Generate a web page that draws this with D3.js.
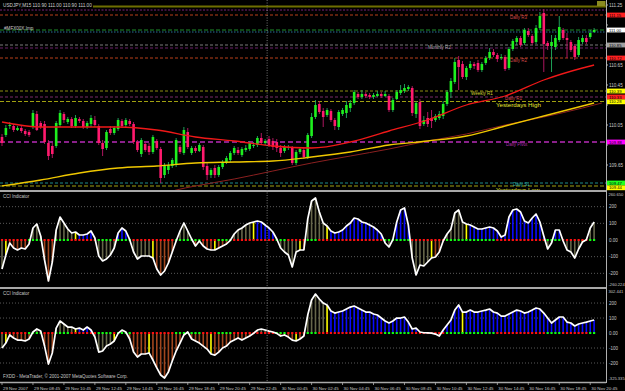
<!DOCTYPE html>
<html><head><meta charset="utf-8">
<script src="https://cdn.jsdelivr.net/npm/d3@7/dist/d3.min.js"></script>
<style>html,body{margin:0;padding:0;background:#000;overflow:hidden}svg{display:block}</style>
</head><body>
<svg id="chart" width="625" height="391"></svg>
<script>
// ---------------- DATA ----------------
const symbolTitle = "USDJPY,M15  110.90 111.00 110.90 111.00";
const open = [109.93,109.95,110.04,110.04,110.00,110.02,109.99,109.98,110.03,110.16,
110.07,110.06,109.87,109.84,109.84,110.05,110.16,110.08,110.11,110.04,
110.11,110.09,110.03,110.06,110.10,110.04,109.87,109.82,110.01,109.97,
110.01,110.09,110.05,110.09,110.06,109.88,109.76,109.86,109.84,109.78,
109.89,109.81,109.55,109.60,109.64,109.65,109.83,109.77,109.98,109.77,
109.82,109.79,109.83,109.64,109.55,109.62,109.55,109.63,109.68,109.70,
109.77,109.80,109.75,109.80,109.81,109.84,109.85,109.92,109.87,109.91,
109.89,109.88,109.82,109.79,109.82,109.82,109.67,109.78,109.80,109.73,
109.94,110.13,110.26,110.19,110.15,110.19,110.10,110.03,110.16,110.17,
110.22,110.27,110.36,110.33,110.36,110.35,110.33,110.34,110.36,110.34,
110.34,110.20,110.31,110.37,110.39,110.41,110.42,110.16,110.28,110.06,
110.12,110.12,110.10,110.12,110.14,110.26,110.38,110.48,110.70,110.66,
110.53,110.62,110.66,110.67,110.60,110.67,110.72,110.78,110.75,110.72,
110.73,110.62,110.81,110.88,110.92,110.87,110.99,110.94,110.88,111.02,
111.17,110.87,110.84,110.83,110.90,111.00,110.92,110.88,110.84,110.75,
110.88,110.92,110.93,110.98];
const close = [109.87,110.02,110.05,110.00,110.02,109.99,109.96,109.95,110.17,110.00,
110.03,109.88,109.74,109.76,110.07,110.17,110.10,110.11,110.04,110.12,
110.09,110.03,110.07,110.12,110.05,109.87,109.81,109.98,109.97,110.02,
110.10,110.04,110.10,110.06,109.88,109.80,109.90,109.80,109.78,109.93,
109.82,109.52,109.65,109.65,109.70,109.90,109.78,110.00,109.83,109.82,
109.79,109.85,109.63,109.55,109.60,109.55,109.63,109.68,109.72,109.77,
109.82,109.77,109.81,109.82,109.87,109.85,109.92,109.87,109.89,109.85,
109.83,109.82,109.77,109.83,109.83,109.67,109.78,109.81,109.73,109.95,
110.13,110.25,110.18,110.13,110.20,110.10,110.04,110.18,110.20,110.25,
110.27,110.38,110.33,110.36,110.34,110.33,110.35,110.36,110.34,110.36,
110.20,110.30,110.38,110.40,110.42,110.43,110.17,110.27,110.04,110.10,
110.06,110.09,110.14,110.16,110.26,110.38,110.49,110.68,110.63,110.53,
110.62,110.66,110.64,110.60,110.66,110.72,110.78,110.75,110.71,110.73,
110.61,110.81,110.89,110.92,110.85,111.00,110.95,110.87,111.02,111.14,
110.86,110.84,110.88,110.92,111.03,110.92,110.90,110.80,110.73,110.90,
110.92,110.88,110.97,111.00];
const high = [109.96,110.05,110.08,110.06,110.04,110.04,110.01,110.00,110.20,110.19,
110.09,110.09,109.90,109.87,110.09,110.20,110.18,110.13,110.13,110.15,
110.13,110.11,110.09,110.15,110.14,110.06,109.90,110.00,110.04,110.04,
110.12,110.11,110.12,110.11,110.08,109.90,109.92,109.88,109.87,109.95,
109.91,109.83,109.67,109.68,109.72,109.92,109.85,110.03,110.02,109.84,
109.84,109.87,109.85,109.67,109.62,109.65,109.65,109.70,109.74,109.79,
109.84,109.83,109.83,109.85,109.89,109.88,109.94,109.97,109.91,109.94,
109.92,109.91,109.85,109.85,109.85,109.84,109.80,109.83,109.82,109.97,
110.17,110.30,110.29,110.22,110.22,110.21,110.12,110.20,110.22,110.29,
110.30,110.40,110.38,110.40,110.38,110.37,110.37,110.39,110.38,110.39,
110.36,110.32,110.40,110.45,110.46,110.45,110.44,110.29,110.31,110.14,
110.18,110.20,110.16,110.19,110.29,110.40,110.52,110.72,110.74,110.69,
110.64,110.69,110.68,110.70,110.68,110.74,110.82,110.81,110.77,110.76,
110.75,110.83,110.91,110.94,110.94,111.02,111.02,110.96,111.05,111.18,
111.21,110.89,110.95,110.95,111.14,111.02,110.97,110.90,110.86,110.93,
110.95,110.95,111.00,111.02];
const low = [109.84,109.93,110.01,109.98,109.99,109.97,109.94,109.93,110.01,109.99,
110.01,109.86,109.70,109.72,109.82,110.03,110.07,110.06,110.02,110.02,
110.07,110.01,110.01,110.03,110.03,109.85,109.74,109.80,109.95,109.95,
109.99,110.02,110.03,110.04,109.86,109.78,109.73,109.78,109.75,109.76,
109.80,109.47,109.52,109.56,109.62,109.63,109.76,109.75,109.81,109.75,
109.77,109.78,109.60,109.50,109.52,109.52,109.53,109.61,109.66,109.68,
109.75,109.75,109.73,109.78,109.79,109.82,109.83,109.85,109.85,109.83,
109.80,109.78,109.73,109.77,109.80,109.65,109.65,109.76,109.71,109.71,
109.92,110.11,110.16,110.03,110.13,110.08,110.00,110.00,110.14,110.12,
110.18,110.25,110.31,110.31,110.32,110.31,110.31,110.33,110.32,110.33,
110.18,110.18,110.30,110.35,110.37,110.39,110.14,110.12,110.01,110.04,
110.03,110.02,110.08,110.10,110.11,110.24,110.32,110.46,110.40,110.51,
110.50,110.60,110.61,110.58,110.58,110.65,110.70,110.73,110.68,110.70,
110.59,110.60,110.79,110.85,110.83,110.85,110.93,110.85,110.86,111.00,
110.58,110.80,110.58,110.80,110.88,110.90,110.72,110.78,110.70,110.73,
110.86,110.86,110.91,110.97];

// moving averages (read at sample bars)
const maBars = [0,10,20,30,40,50,60,70,80,90,100,110,120,130,140,150,153];
const maRed = [110.08,110.03,110.03,110.03,110.00,109.93,109.89,109.84,109.82,109.88,109.99,110.10,110.25,110.34,110.50,110.62,110.65];
const maYellow = [109.44,109.50,109.57,109.62,109.64,109.67,109.68,109.69,109.73,109.78,109.85,109.89,109.94,110.04,110.14,110.24,110.27];
const maMaroonBars = [40,45,50,60,70,80,90,100,110,120,130,140,150,155];
const maMaroon = [109.34,109.40,109.44,109.51,109.59,109.67,109.74,109.81,109.89,109.96,110.05,110.13,110.22,110.27];

// CCI panel values (one per bar)
const cci1 = [-174,-90,-18,-48,-60,-48,-54,-24,72,96,
24,-120,-246,-132,60,138,102,66,42,48,
30,30,36,54,12,-96,-126,-114,-90,-48,
42,72,54,2,-72,-114,-96,-96,-96,-108,
-174,-210,-186,-138,-72,-6,54,102,54,6,
-36,-6,-36,-54,-60,-60,-48,-36,-24,-2,
36,60,72,90,102,108,114,108,90,72,
48,6,-48,-72,-90,-162,-72,-60,-60,126,
234,252,168,102,84,54,42,48,60,84,
102,132,126,108,102,90,78,60,36,-18,
-42,2,108,180,192,90,-108,-210,-150,-156,
-132,-108,-102,-72,-6,36,66,162,180,108,
96,90,78,66,66,72,78,72,54,18,
30,138,180,186,168,114,102,132,156,108,
24,-54,-18,60,60,-6,-60,-72,-108,-54,
-12,2,72,108];
const cci2 = [-100,-67,-13,-33,-47,-47,-53,-40,7,27,
13,-87,-207,-133,33,80,60,40,40,27,
33,20,40,20,-27,-127,-120,-87,-73,-53,
-2,20,7,-40,-127,-160,-140,-140,-133,-180,
-233,-280,-300,-260,-187,-120,-67,-13,7,-40,
-53,-67,-87,-107,-140,-147,-127,-100,-87,-60,
-47,-33,-47,-33,-20,-2,20,27,20,13,
7,-2,-20,-13,-27,-47,-53,-40,-20,120,
220,260,227,200,187,147,133,140,147,160,
173,180,167,153,140,140,127,120,100,80,
67,80,100,100,107,73,27,33,7,2,
1,-1,-7,-20,20,53,87,153,187,140,
140,153,140,140,147,153,160,140,133,113,
113,127,140,153,147,133,140,153,167,160,
133,100,67,87,107,107,73,67,47,60,
67,73,80,87];
const priorRun = 4; // bars below zero before the first visible bar
const zeroDots = ("RRRRRRRGGGGRRRGGGGRRRRRRRGGGGRGGGGRRRRRRRRRRRGGGGGGGRRRRGGGG" +
  "RRRRRRRRRRRGGGRRRRRGGGRRRRRRRRRRRRRRRRRGGGGGGGRRRRRRRRRGGGGGGGGGGGGG" +
  "RRRRRRRRRRRRRGGGGRRRRRRRGG").split("");

// levels
const levelValues = [111.235,111.20,111.15,111.00,110.98,110.85,110.82,110.72,110.39,110.33,110.285,109.88,109.47,109.44];
const levelNames  = ["","","Daily R3","","","Monthly R2","","Daily R2","Weekly R1","Daily R1","Yesterdays High","Daily Pivot","Daily S1","Yesterdays Low"];
const boxValues = [111.15,111.00,110.85,110.72,110.39,110.33,110.285,109.88,109.47,109.44];
const priceTicks = [111.25,111.05,110.85,110.65,110.45,110.25,110.05,109.85,109.65,109.45];
const cciTicks = [200,100,0,-100,-200];
const cciTickLabels = ["200","100","0.00","-100","-200"];
const cci1Range = ["260.650","-260.224"];
const cci2Range = ["302.441","-325.335"];
const timeBars = [0,8,16,24,32,40,48,56,64,72,80,88,96,104,112,120,128,136,144,152];
const timeLabels = ["29 Nov 2007","29 Nov 08:45","29 Nov 10:45","29 Nov 12:45","29 Nov 14:45","29 Nov 16:45",
 "29 Nov 18:45","29 Nov 20:45","29 Nov 22:45","30 Nov 00:45","30 Nov 02:45","30 Nov 04:45","30 Nov 06:45",
 "30 Nov 08:45","30 Nov 10:45","30 Nov 12:45","30 Nov 14:45","30 Nov 16:45","30 Nov 18:45","30 Nov 20:45"];
const dayBreakBar = 69;

// ---------------- DRAW ----------------
const svg = d3.select('#chart');
svg.append('rect').attr('width',625).attr('height',391).attr('fill','#000');
const FONT = "'Liberation Sans',Arial,Helvetica,sans-serif";
function txt(g,x,y,s,size,fill,anchor){
  return g.append('text').attr('transform',`translate(${x},${y}) scale(0.5)`)
    .attr('font-family',FONT).attr('font-size',size*2).attr('fill',fill)
    .attr('text-anchor',anchor||'start').text(s);
}
const R = 606;
const x = d3.scaleLinear().domain([0,153]).range([2,594.1]);
const yM = d3.scaleLinear().domain([109.39,111.30]).range([191,0]);
const y1 = d3.scaleLinear().domain([-282,282]).range([287,193]);
const y2 = d3.scaleLinear().domain([-320,287]).range([381,290]);

const defs = svg.append('defs');
function clip(id,y0,h){defs.append('clipPath').attr('id',id).append('rect').attr('x',0).attr('y',y0).attr('width',R).attr('height',h);}
clip('cm',1,189); clip('c1',192,95); clip('c2',289,93);

// ---- main panel ----
const gm = svg.append('g').attr('clip-path','url(#cm)');
const levelColors = ['#6e6e00','#7a227a','#b8401a','#1f8f2a','#2a6f9a','#7a7a7a','#6a226a','#b8401a','#8f8f10','#7a2a6a','#a0a010','#8a208a','#1f8a8a','#a0a010'];
const levelWidths = [2,1,1,1,1,1,1,1,1,1,1,2,1,1];
const levelDash = [null,'2,1.5','3,2','4,2','1.5,1.5','3,2','3,2','3,2','3,2','3,2','4,2','5,3','3,2','4,2'];
levelValues.forEach((v,i)=>{
  gm.append('line').attr('x1',0).attr('x2',R).attr('y1',yM(v)).attr('y2',yM(v))
    .attr('stroke',levelColors[i]).attr('stroke-width',levelWidths[i])
    .attr('stroke-dasharray',levelDash[i]);
});
gm.append('line').attr('x1',0).attr('x2',R).attr('y1',0.5).attr('y2',0.5).attr('stroke','#8a8a8a');

const labelX = [0,0,510,0,0,428,0,510,471,505,496,506,513,496];
const labelDy = [0,0,4.4,0,0,4.4,0,4.4,4.4,3,5.6,4.4,2.6,5.6];
const labelColors = ['','','#d04848','','','#a8a8a8','','#d04848','#d0d030','#d04848','#e8e830','#b030b0','#30b0a0','#e8e830'];
levelNames.forEach((n,i)=>{
  if(!n) return;
  const big = n.startsWith('Yesterdays');
  txt(gm,labelX[i],yM(levelValues[i])+labelDy[i],n,big?6.2:4.5,labelColors[i]);
});
txt(gm,4,29.5,"#MFX00X.Imp",4.6,'#c8c8c8');

// candles
const idx = d3.range(open.length);
gm.selectAll('line.wick').data(idx).join('line')
  .attr('x1',i=>x(i)).attr('x2',i=>x(i)).attr('y1',i=>yM(high[i])).attr('y2',i=>yM(low[i]))
  .attr('stroke',i=>close[i]>=open[i]?'#20b060':'#c0186a').attr('stroke-width',0.9);
gm.selectAll('rect.body').data(idx).join('rect')
  .attr('x',i=>x(i)-1.3).attr('width',2.6)
  .attr('y',i=>yM(Math.max(open[i],close[i])))
  .attr('height',i=>Math.max(0.8,Math.abs(yM(open[i])-yM(close[i]))))
  .attr('fill',i=>close[i]>=open[i]?'#1ef01e':'#ff1a6e');

// MAs
const maLine = d3.line().curve(d3.curveMonotoneX);
gm.append('path').attr('d',maLine(maMaroonBars.map((b,i)=>[x(b),yM(maMaroon[i])])))
  .attr('fill','none').attr('stroke','#8b2020').attr('stroke-width',1);
gm.append('path').attr('d',maLine(maBars.map((b,i)=>[x(b),yM(maYellow[i])])))
  .attr('fill','none').attr('stroke','#f0c800').attr('stroke-width',1.3);
gm.append('path').attr('d',maLine(maBars.map((b,i)=>[x(b),yM(maRed[i])])))
  .attr('fill','none').attr('stroke','#f01818').attr('stroke-width',1.3);

// header
svg.append('rect').attr('x',0).attr('y',1.5).attr('width',93).attr('height',6.5).attr('fill','#000');
txt(svg,3,7,symbolTitle,4.7,'#d0d0d0');

// ---- CCI panels ----
function woodie(vals){
  let sign=-1, run=priorRun, trend=0;
  return vals.map(v=>{
    const s = v>=0?1:-1;
    if(s===sign) run++; else {sign=s; run=1;}
    if(run===6){trend=s; return '#ffff00';}
    if(run>6){trend=s; return s>0?'#0a0aff':'#a0461e';}
    if(s===trend) return s>0?'#0a0aff':'#a0461e';
    return '#66664a';
  });
}
function cciPanel(clipId, ys, vals, range){
  const g = svg.append('g').attr('clip-path',`url(#${clipId})`);
  [200,100,-100,-200].forEach(t=>{
    g.append('line').attr('x1',0).attr('x2',R).attr('y1',ys(t)).attr('y2',ys(t))
      .attr('stroke','#707070').attr('stroke-width',0.8).attr('stroke-dasharray','1,2');
  });
  const cols = woodie(vals);
  g.selectAll('line.h').data(idx).join('line')
    .attr('x1',i=>x(i)).attr('x2',i=>x(i)).attr('y1',ys(0)).attr('y2',i=>ys(vals[i]))
    .attr('stroke',i=>cols[i]).attr('stroke-width',1.6);
  g.selectAll('rect.z').data(idx).join('rect')
    .attr('x',i=>x(i)-1.1).attr('y',ys(0)-1).attr('width',2.2).attr('height',2)
    .attr('fill',i=>zeroDots[i]==='R'?'#ff1010':'#10ff10');
  g.append('path').attr('d',d3.line()(idx.map(i=>[x(i),ys(vals[i])])))
    .attr('fill','none').attr('stroke','#ffffff').attr('stroke-width',1.7).attr('stroke-linejoin','round');
  txt(g,3,ys.range()[1]+5,"CCI Indicator",4.5,'#c8c8c8');
  cciTicks.forEach((t,i)=>txt(svg,609,ys(t)+1.6,cciTickLabels[i],4.5,'#c8c8c8'));
  txt(svg,608.5,ys.range()[1]+3,range[0],4.1,'#c8c8c8');
  txt(svg,608.5,ys.range()[0]-0.8,range[1],4.1,'#c8c8c8');
}
cciPanel('c1',y1,cci1,cci1Range);
cciPanel('c2',y2,cci2,cci2Range);
txt(svg,3,378,"FXDD - MetaTrader, \u00A9 2001-2007 MetaQuotes Software Corp.",4.5,'#c8c8c8');

// ---- frame / separators ----
svg.append('line').attr('x1',0).attr('x2',R).attr('y1',191).attr('y2',191).attr('stroke','#a8a8a8').attr('stroke-width',2);
svg.append('line').attr('x1',0).attr('x2',R).attr('y1',288).attr('y2',288).attr('stroke','#a8a8a8').attr('stroke-width',2);
svg.append('line').attr('x1',0).attr('x2',R).attr('y1',382.5).attr('y2',382.5).attr('stroke','#a8a8a8').attr('stroke-width',1.5);
svg.append('line').attr('x1',R+0.5).attr('x2',R+0.5).attr('y1',0).attr('y2',383).attr('stroke','#b0b0b0');
svg.append('line').attr('x1',x(dayBreakBar)-1.9).attr('x2',x(dayBreakBar)-1.9).attr('y1',0).attr('y2',382)
  .attr('stroke','#909090').attr('stroke-width',0.8).attr('stroke-dasharray','1,1.5');

// ---- right price axis ----
// box positions with a small collision pass so labels stay legible
const boxY = boxValues.map(v=>yM(v));
for(let i=1;i<boxY.length;i++){ if(boxY[i]-boxY[i-1]<4.8) boxY[i]=boxY[i-1]+4.8; }
priceTicks.forEach(v=>{
  svg.append('line').attr('x1',R).attr('x2',R+2).attr('y1',yM(v)).attr('y2',yM(v)).attr('stroke','#b0b0b0');
  if(boxY.some(b=>Math.abs(b-yM(v))<5)) return;
  txt(svg,609,yM(v)+1.6,v.toFixed(2),4.6,'#c8c8c8');
});
const boxColors = ['#ff2020','#ffffff','#a0a0a0','#ff2020','#ffff00','#ff2020','#ffff00','#ff00ff','#20ff20','#ffff00'];
boxValues.forEach((v,i)=>{
  svg.append('rect').attr('x',607).attr('y',boxY[i]-2.4).attr('width',18).attr('height',4.8).attr('fill',boxColors[i]);
  txt(svg,609,boxY[i]+1.5,v.toFixed(2),4.2,'#000');
});
svg.append('rect').attr('x',597).attr('y',1).attr('width',8.5).attr('height',5).attr('fill','#8a8a20');

// ---- time axis ----
timeBars.forEach((b,i)=>{
  svg.append('line').attr('x1',x(b)).attr('x2',x(b)).attr('y1',382).attr('y2',385).attr('stroke','#b0b0b0').attr('stroke-width',0.8);
  txt(svg,x(b)+1,389.5,timeLabels[i],4.4,'#c8c8c8');
});
</script>
</body></html>
